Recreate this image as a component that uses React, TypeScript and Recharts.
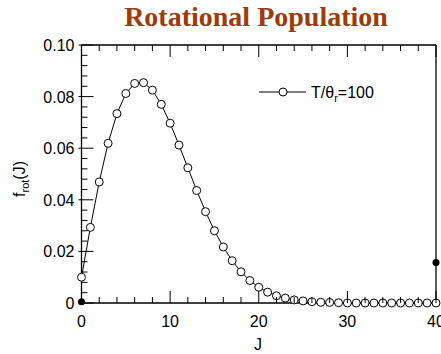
import { LineChart, Line, XAxis, YAxis, Legend, ReferenceDot } from 'recharts';

// rotational quantum number J and population
const jValues = [
  0, 1, 2, 3, 4, 5, 6, 7, 8, 9, 10, 11, 12, 13, 14, 15, 16, 17, 18, 19, 20,
  21, 22, 23, 24, 25, 26, 27, 28, 29, 30, 31, 32, 33, 34, 35, 36, 37, 38, 39, 40,
];
const fRot = [
  0.01, 0.0293, 0.0469, 0.0619, 0.0734, 0.0812, 0.0851, 0.0854, 0.0825, 0.077, 0.0697,
  0.0612, 0.0524, 0.0436, 0.0354, 0.028, 0.0217, 0.0164, 0.0121, 0.0087, 0.0061,
  0.0042, 0.0028, 0.0019, 0.0012, 0.0008, 0.0005, 0.0003, 0.0002, 0.0001, 0,
  0, 0, 0, 0, 0, 0, 0, 0, 0, 0,
];

const xTicks = [0, 2, 4, 6, 8, 10, 12, 14, 16, 18, 20, 22, 24, 26, 28, 30, 32, 34, 36, 38, 40];
const xMajor = [0, 10, 20, 30, 40];
const yTicks = [
  0, 0.004, 0.008, 0.012, 0.016, 0.02, 0.024, 0.028, 0.032, 0.036, 0.04, 0.044, 0.048,
  0.052, 0.056, 0.06, 0.064, 0.068, 0.072, 0.076, 0.08, 0.084, 0.088, 0.092, 0.096, 0.1,
];
const yMajor = [0, 0.02, 0.04, 0.06, 0.08, 0.1];
const yLabels = ['0', '0.02', '0.04', '0.06', '0.08', '0.10'];

// stray black dots in the original figure
const markerJ = [0, 40];
const markerF = [0.0005, 0.0157];

const data = jValues.map((j, i) => ({ j, f: fRot[i] }));

const FONT = '"Liberation Sans", Arial, Helvetica, sans-serif';
const MAJOR = 12;
const MINOR = 6;

const isMajorY = (v: number) => yMajor.some((m) => Math.abs(m - v) < 1e-9);
const majorYLabel = (v: number) => yLabels[yMajor.findIndex((m) => Math.abs(m - v) < 1e-9)];

function BottomTick({ x, y, payload }: any) {
  const major = xMajor.includes(payload.value);
  return (
    <g>
      <line x1={x} x2={x} y1={y} y2={y - (major ? MAJOR : MINOR)} stroke="#000" />
      {major && (
        <text x={x} y={y + 24} textAnchor="middle" fontSize={16} fontFamily={FONT} fill="#000">
          {payload.value}
        </text>
      )}
    </g>
  );
}

function TopTick({ x, y, payload }: any) {
  const major = xMajor.includes(payload.value);
  return <line x1={x} x2={x} y1={y} y2={y + (major ? MAJOR : MINOR)} stroke="#000" />;
}

function LeftTick({ x, y, payload }: any) {
  const major = isMajorY(payload.value);
  return (
    <g>
      <line x1={major ? x - 3 : x} x2={x + (major ? MAJOR : MINOR)} y1={y} y2={y} stroke="#000" />
      {major && (
        <text x={x - 7} y={y + 6} textAnchor="end" fontSize={16} fontFamily={FONT} fill="#000">
          {majorYLabel(payload.value)}
        </text>
      )}
    </g>
  );
}

function RightTick({ x, y, payload }: any) {
  const major = isMajorY(payload.value);
  return <line x1={x} x2={x - (major ? MAJOR : MINOR)} y1={y} y2={y} stroke="#000" />;
}

function LegendContent() {
  return (
    <svg width={140} height={24} style={{ display: 'block', overflow: 'visible' }}>
      <line x1={0} x2={47} y1={12} y2={12} stroke="#000" />
      <circle cx={24} cy={12} r={4} fill="#fff" stroke="#000" />
      <text x={52} y={17.5} fontSize={16} fontFamily={FONT} fill="#000">
        T/θ
        <tspan dy={4} fontSize={11}>r</tspan>
        <tspan dy={-4}>=100</tspan>
      </text>
    </svg>
  );
}

const axisLine = { stroke: '#000', strokeWidth: 1.3 };

export default function App() {
  return (
    <div style={{ position: 'relative', width: 441, height: 354, background: '#fff' }}>
      <style>{'body{margin:0}'}</style>
      <LineChart
        width={441}
        height={354}
        data={data}
        margin={{ top: 44, right: 4, bottom: 50, left: 80.5 }}
      >
        <XAxis
          dataKey="j"
          type="number"
          domain={[0, 40]}
          ticks={xTicks}
          height={1}
          tickSize={0}
          tickMargin={0}
          tickLine={false}
          interval={0}
          axisLine={axisLine}
          tick={BottomTick}
        />
        <XAxis
          xAxisId="top"
          orientation="top"
          dataKey="j"
          type="number"
          domain={[0, 40]}
          ticks={xTicks}
          height={1}
          tickSize={0}
          tickMargin={0}
          tickLine={false}
          interval={0}
          axisLine={axisLine}
          tick={TopTick}
        />
        <YAxis
          type="number"
          domain={[0, 0.1]}
          ticks={yTicks}
          width={1}
          tickSize={0}
          tickMargin={0}
          tickLine={false}
          interval={0}
          axisLine={axisLine}
          tick={LeftTick}
        />
        <YAxis
          yAxisId="right"
          orientation="right"
          type="number"
          domain={[0, 0.1]}
          ticks={yTicks}
          width={1}
          tickSize={0}
          tickMargin={0}
          tickLine={false}
          interval={0}
          axisLine={axisLine}
          tick={RightTick}
        />
        <Legend
          layout="horizontal"
          verticalAlign="middle"
          align="center"
          content={<LegendContent />}
          wrapperStyle={{ left: 259, top: 80, width: 'auto' }}
        />
        <Line
          type="linear"
          dataKey="f"
          stroke="#000"
          strokeWidth={1}
          dot={{ r: 4, fill: '#fff', stroke: '#000', strokeWidth: 1 }}
          activeDot={false}
          isAnimationActive={false}
        />
        {markerJ.map((j, i) => (
          <ReferenceDot key={j} x={j} y={markerF[i]} r={3.5} fill="#000" stroke="none" ifOverflow="visible" />
        ))}
      </LineChart>
      <svg
        width={441}
        height={354}
        style={{ position: 'absolute', left: 0, top: 0, pointerEvents: 'none' }}
      >
        <text
          x={256}
          y={26}
          textAnchor="middle"
          fontSize={28}
          fontWeight="bold"
          fontFamily='"Liberation Serif", "Times New Roman", serif'
          fill="#9E3B0B"
        >
          Rotational Population
        </text>
        <text x={258} y={350} textAnchor="middle" fontSize={16} fontFamily={FONT} fill="#000">
          J
        </text>
        <text
          transform="translate(25,179) rotate(-90)"
          textAnchor="middle"
          fontSize={16}
          fontFamily={FONT}
          fill="#000"
        >
          f<tspan dy={4} fontSize={11}>rot</tspan>
          <tspan dy={-4}>(J)</tspan>
        </text>
      </svg>
    </div>
  );
}
